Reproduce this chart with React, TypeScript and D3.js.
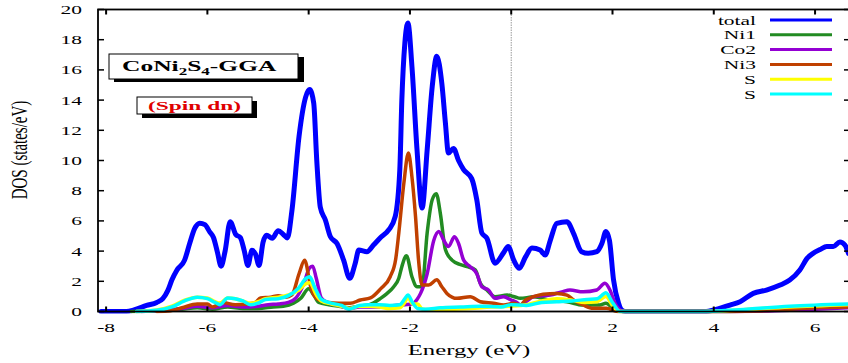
import React from "react";
import * as d3 from "d3";

type Pt = [number, number];

// Energy (eV) vs. DOS (states/eV), spin-down channel
const totalDos: Pt[] = [
  [-8.1, 0], [-7.6, 0], [-7.45, 0.1], [-7.2, 0.4], [-7.0, 0.6], [-6.88, 0.85], [-6.78, 1.4],
  [-6.7, 2.1], [-6.6, 2.75], [-6.45, 3.4], [-6.35, 4.5], [-6.25, 5.5], [-6.15, 5.85],
  [-6.05, 5.75], [-5.95, 5.25], [-5.88, 4.9], [-5.8, 3.9], [-5.73, 3.0], [-5.65, 4.0],
  [-5.55, 5.95], [-5.44, 5.1], [-5.35, 4.9], [-5.27, 4.0], [-5.2, 3.05], [-5.12, 4.05],
  [-5.05, 3.8], [-4.98, 3.05], [-4.9, 4.6], [-4.83, 5.05], [-4.72, 4.85], [-4.6, 5.35],
  [-4.5, 5.1], [-4.42, 4.87], [-4.33, 6.7], [-4.19, 11.6], [-4.06, 14.2], [-3.98, 14.7],
  [-3.9, 13.8], [-3.84, 10.0], [-3.77, 6.9], [-3.67, 6.06], [-3.57, 4.95], [-3.44, 4.5],
  [-3.31, 3.4], [-3.19, 2.2], [-3.08, 3.2], [-3.01, 4.07], [-2.85, 3.96], [-2.72, 4.4],
  [-2.58, 4.9], [-2.42, 5.4], [-2.29, 6.3], [-2.2, 9.4], [-2.16, 14.0], [-2.1, 17.8],
  [-2.04, 19.1], [-1.96, 16.2], [-1.86, 10.7], [-1.76, 6.85], [-1.66, 10.7], [-1.56, 14.9],
  [-1.47, 16.9], [-1.37, 15.1], [-1.3, 12.5], [-1.24, 10.5], [-1.14, 10.8], [-1.04, 10.0],
  [-0.94, 9.4], [-0.78, 8.8], [-0.68, 7.4], [-0.58, 5.2], [-0.48, 4.85], [-0.32, 3.2],
  [-0.15, 3.9], [-0.06, 4.3], [0.05, 3.4], [0.16, 2.86], [0.28, 3.6], [0.41, 4.2],
  [0.57, 4.07], [0.67, 3.74], [0.77, 4.7], [0.9, 5.84], [1.1, 5.95], [1.23, 5.18],
  [1.39, 3.96], [1.52, 3.85], [1.69, 3.96], [1.79, 4.5], [1.87, 5.3], [1.94, 4.7],
  [2.02, 2.1], [2.12, 0.55], [2.18, 0.1], [2.25, 0], [3.85, 0], [4.0, 0.1], [4.32, 0.43],
  [4.52, 0.65], [4.78, 1.2], [5.04, 1.42], [5.31, 1.75], [5.5, 2.08], [5.7, 2.75],
  [5.85, 3.55], [5.96, 3.85], [6.1, 4.1], [6.23, 4.3], [6.36, 4.3], [6.49, 4.6],
  [6.59, 4.4], [6.66, 3.85],
];

const ni1Dos: Pt[] = [
  [-7.5, 0], [-7.0, 0.05], [-6.5, 0.15], [-6.2, 0.25], [-5.9, 0.15], [-5.6, 0.3], [-5.3, 0.2],
  [-5.0, 0.2], [-4.7, 0.3], [-4.5, 0.35], [-4.3, 0.55], [-4.15, 0.9], [-4.0, 1.5],
  [-3.9, 1.1], [-3.8, 0.6], [-3.6, 0.45], [-3.4, 0.35], [-3.2, 0.25], [-3.0, 0.35],
  [-2.8, 0.45], [-2.58, 0.87], [-2.45, 1.2], [-2.32, 1.64], [-2.22, 2.2], [-2.16, 2.97],
  [-2.07, 3.7], [-1.96, 2.3], [-1.86, 1.64], [-1.76, 1.64], [-1.66, 5.2], [-1.56, 7.4],
  [-1.48, 7.8], [-1.4, 6.5], [-1.3, 4.1], [-1.17, 3.4], [-1.0, 3.1], [-0.87, 2.97],
  [-0.71, 2.75], [-0.61, 1.87], [-0.48, 1.42], [-0.32, 0.98], [-0.08, 1.09], [0.06, 0.98],
  [0.18, 0.87], [0.44, 0.97], [0.77, 0.76], [1.1, 0.65], [1.42, 0.43], [1.75, 0.43],
  [1.87, 0.54], [2.05, 0.1], [2.2, 0], [4.2, 0], [5.0, 0.1], [5.8, 0.25], [6.66, 0.35],
];

const co2Dos: Pt[] = [
  [-7.3, 0], [-6.8, 0.1], [-6.5, 0.2], [-6.2, 0.35], [-5.9, 0.25], [-5.6, 0.4], [-5.3, 0.3],
  [-5.0, 0.35], [-4.8, 0.45], [-4.6, 0.5], [-4.4, 0.6], [-4.25, 0.9], [-4.1, 1.8],
  [-3.98, 2.9], [-3.92, 3.0], [-3.85, 2.2], [-3.75, 0.9], [-3.6, 0.55], [-3.4, 0.4],
  [-3.2, 0.2], [-3.0, 0.3], [-2.8, 0.3], [-2.6, 0.3], [-2.3, 0.4], [-2.1, 0.45],
  [-1.95, 0.5], [-1.86, 0.8], [-1.79, 1.2], [-1.66, 2.5], [-1.53, 4.7], [-1.43, 5.3],
  [-1.33, 4.7], [-1.24, 4.3], [-1.12, 4.95], [-1.04, 4.5], [-0.94, 3.4], [-0.81, 2.97],
  [-0.68, 2.5], [-0.58, 1.64], [-0.45, 1.42], [-0.32, 0.87], [-0.15, 0.98], [0.0, 0.76],
  [0.11, 0.6], [0.18, 0.43], [0.44, 0.98], [0.77, 1.09], [1.0, 1.3], [1.16, 1.42],
  [1.42, 1.3], [1.69, 1.42], [1.85, 1.87], [1.95, 1.42], [2.05, 0.54], [2.15, 0.1],
  [2.25, 0], [4.3, 0], [5.2, 0.05], [6.0, 0.15], [6.66, 0.25],
];

const ni3Dos: Pt[] = [
  [-7.0, 0], [-6.73, 0.05], [-6.5, 0.25], [-6.2, 0.5], [-6.0, 0.5], [-5.9, 0.3], [-5.7, 0.6],
  [-5.45, 0.45], [-5.2, 0.5], [-5.05, 0.6], [-4.95, 0.9], [-4.75, 0.95], [-4.6, 1.05],
  [-4.45, 0.95], [-4.33, 1.1], [-4.19, 2.5], [-4.08, 3.4], [-3.96, 1.64], [-3.9, 1.09],
  [-3.8, 0.76], [-3.6, 0.6], [-3.4, 0.55], [-3.18, 0.54], [-2.98, 0.76], [-2.78, 0.9],
  [-2.58, 1.5], [-2.39, 2.3], [-2.28, 3.5], [-2.22, 5.2], [-2.12, 8.5], [-2.03, 10.5],
  [-1.96, 8.9], [-1.89, 6.3], [-1.83, 3.4], [-1.76, 1.75], [-1.63, 1.75], [-1.47, 2.1],
  [-1.37, 1.64], [-1.27, 1.2], [-1.07, 0.87], [-0.81, 0.98], [-0.61, 0.65], [-0.35, 0.54],
  [-0.15, 0.43], [0.05, 0.54], [0.18, 0.43], [0.28, 0.76], [0.44, 0.98], [0.63, 1.14],
  [0.9, 1.2], [1.1, 1.09], [1.23, 0.76], [1.42, 0.43], [1.62, 0.21], [1.88, 0.21],
  [2.1, 0], [4.3, 0], [5.2, 0.08], [6.0, 0.25], [6.66, 0.3],
];

const s1Dos: Pt[] = [
  [-7.4, 0], [-7.0, 0.1], [-6.7, 0.35], [-6.45, 0.75], [-6.2, 0.95], [-6.0, 0.9],
  [-5.85, 0.65], [-5.75, 0.55], [-5.6, 0.9], [-5.45, 0.85], [-5.3, 0.7], [-5.15, 0.55],
  [-5.0, 0.65], [-4.85, 0.85], [-4.6, 0.95], [-4.4, 1.1], [-4.2, 1.4], [-4.05, 1.85],
  [-3.98, 1.9], [-3.85, 1.1], [-3.75, 0.7], [-3.55, 0.5], [-3.35, 0.35], [-3.2, 0.2],
  [-3.0, 0.35], [-2.8, 0.35], [-2.6, 0.3], [-2.4, 0.2], [-2.2, 0.25], [-2.1, 0.6],
  [-2.04, 0.95], [-1.95, 0.5], [-1.85, 0.5], [-1.75, 0.15], [-1.5, 0.1], [-1.2, 0.15],
  [-0.8, 0.2], [-0.4, 0.3], [0.0, 0.35], [0.3, 0.45], [0.6, 0.7], [0.9, 0.85], [1.2, 0.75],
  [1.45, 0.6], [1.7, 0.65], [1.87, 1.0], [2.0, 0.4], [2.15, 0], [3.9, 0], [4.5, 0.1],
  [5.5, 0.3], [6.66, 0.45],
];

const s2Dos: Pt[] = [
  [-7.4, 0], [-7.0, 0.08], [-6.7, 0.3], [-6.45, 0.7], [-6.2, 0.95], [-6.0, 0.85],
  [-5.85, 0.6], [-5.75, 0.45], [-5.6, 0.9], [-5.45, 0.85], [-5.3, 0.7], [-5.15, 0.45],
  [-5.0, 0.55], [-4.85, 0.8], [-4.6, 0.85], [-4.4, 1.05], [-4.2, 1.55], [-4.05, 2.2],
  [-3.98, 2.3], [-3.88, 1.6], [-3.75, 0.8], [-3.55, 0.55], [-3.35, 0.4], [-3.2, 0.15],
  [-3.0, 0.4], [-2.8, 0.45], [-2.6, 0.45], [-2.4, 0.4], [-2.2, 0.45], [-2.1, 0.85],
  [-2.04, 1.1], [-1.95, 0.6], [-1.85, 0.2], [-1.7, 0.15], [-1.4, 0.25], [-1.0, 0.3],
  [-0.6, 0.35], [-0.2, 0.3], [0.0, 0.45], [0.3, 0.4], [0.6, 0.6], [0.9, 0.65], [1.2, 0.7],
  [1.5, 0.8], [1.7, 0.85], [1.87, 1.25], [2.0, 0.6], [2.15, 0], [3.8, 0], [4.5, 0.12],
  [5.5, 0.35], [6.66, 0.5],
];

const seriesNames = ["total", "Ni1", "Co2", "Ni3", "S", "S"];
const seriesColors = ["#0000ff", "#228b22", "#9400d3", "#c04000", "#ffff00", "#00ffff"];
const seriesData = [totalDos, ni1Dos, co2Dos, ni3Dos, s1Dos, s2Dos];

const xTicks = [-8, -6, -4, -2, 0, 2, 4, 6];
const yTicks = [0, 2, 4, 6, 8, 10, 12, 14, 16, 18, 20];

const W = 848;
const H = 363;
const FONT = "'Liberation Serif', 'Times New Roman', serif";
const SX = 1.65; // horizontal glyph stretch

export default function App() {
  const left = 98;
  const right = 850;
  const top = 9.5;
  const bottom = 311.5;

  const x = d3.scaleLinear().domain([-8.16, 6.69]).range([left, right]);
  const y = d3.scaleLinear().domain([0, 20]).range([bottom, top]);

  const line = d3
    .line<Pt>()
    .x((d) => x(d[0]))
    .y((d) => y(d[1]))
    .curve(d3.curveMonotoneX);

  const stretchText = (
    tx: number,
    ty: number,
    content: React.ReactNode,
    opts: { anchor?: string; size?: number; weight?: string; fill?: string; sx?: number } = {}
  ) => (
    <text
      transform={`translate(${tx},${ty}) scale(${opts.sx ?? SX},1)`}
      textAnchor={opts.anchor ?? "start"}
      fontSize={opts.size ?? 13}
      fontWeight={opts.weight ?? "normal"}
      fill={opts.fill ?? "#000"}
      fontFamily={FONT}
    >
      {content}
    </text>
  );

  const legendX1 = 770;
  const legendX2 = 832;
  const legendTextX = 756;
  const legendY0 = 20;
  const legendDy = 14.8;

  return (
    <svg
      width={W}
      height={H}
      style={{ position: "absolute", left: 0, top: 0, background: "#fff" }}
    >
      <defs>
        <clipPath id="plot-area">
          <rect x={left} y={top - 2} width={right - left} height={bottom - top + 4} />
        </clipPath>
      </defs>
      <rect x={0} y={0} width={W} height={H} fill="#fff" />

      {/* Fermi level */}
      <line
        x1={x(0)}
        x2={x(0)}
        y1={top}
        y2={bottom}
        stroke="#999"
        strokeWidth={1}
        strokeDasharray="1.5,1"
      />

      {/* DOS curves */}
      <g clipPath="url(#plot-area)">
        {seriesData.map((d, i) => (
          <path
            key={i}
            d={line(d) ?? ""}
            fill="none"
            stroke={seriesColors[i]}
            strokeWidth={i === 0 ? 5 : 3.5}
            strokeLinejoin="round"
            strokeLinecap="round"
          />
        ))}
      </g>

      {/* frame */}
      <rect
        x={left}
        y={top}
        width={right - left}
        height={bottom - top}
        fill="none"
        stroke="#000"
        strokeWidth={1.8}
      />

      {/* ticks */}
      {xTicks.map((t) => (
        <g key={`xt${t}`}>
          <line x1={x(t)} x2={x(t)} y1={bottom} y2={bottom - 5} stroke="#000" strokeWidth={2} />
          <line x1={x(t)} x2={x(t)} y1={top} y2={top + 5} stroke="#000" strokeWidth={2} />
          {stretchText(x(t), 332, String(t).replace("-", "-"), { anchor: "middle", size: 13 })}
        </g>
      ))}
      {yTicks.map((t) => (
        <g key={`yt${t}`}>
          <line x1={left} x2={left + 6} y1={y(t)} y2={y(t)} stroke="#000" strokeWidth={1.5} />
          <line x1={right} x2={right - 6} y1={y(t)} y2={y(t)} stroke="#000" strokeWidth={1.5} />
          {stretchText(82, y(t) + 4.5, String(t), { anchor: "end", size: 13 })}
        </g>
      ))}

      {/* axis titles */}
      {stretchText((left + right) / 2 - 5, 355, "Energy (eV)", { anchor: "middle", size: 15 })}
      <text
        transform={`translate(27,150) scale(1.5,1) rotate(-90)`}
        textAnchor="middle"
        fontSize={15}
        fontFamily={FONT}
      >
        DOS (states/eV)
      </text>

      {/* title boxes */}
      <rect x={114} y={57} width={190} height={25} fill="#000" />
      <rect x={109} y={54} width={189} height={25} fill="#fff" stroke="#000" strokeWidth={1} />
      {stretchText(
        122,
        71,
        <>
          <tspan>CoNi</tspan>
          <tspan fontSize={10} dy={4}>2</tspan>
          <tspan dy={-4}>S</tspan>
          <tspan fontSize={10} dy={4}>4</tspan>
          <tspan dy={-4}>-GGA</tspan>
        </>,
        { size: 15, weight: "bold", sx: 1.7 }
      )}

      <rect x={142} y={101} width={115} height={17} fill="#000" />
      <rect x={137} y={97} width={115} height={17} fill="#fff" stroke="#000" strokeWidth={1} />
      {stretchText(194.5, 110, "(Spin dn)", {
        anchor: "middle",
        size: 13,
        weight: "bold",
        fill: "#e00000",
        sx: 1.8,
      })}

      {/* legend */}
      {seriesNames.map((name, i) => {
        const ly = legendY0 + i * legendDy;
        return (
          <g key={`lg${i}`}>
            {stretchText(legendTextX, ly + 4.5, name, { anchor: "end", size: 13 })}
            <line
              x1={legendX1}
              x2={legendX2}
              y1={ly}
              y2={ly}
              stroke={seriesColors[i]}
              strokeWidth={3}
            />
          </g>
        );
      })}
    </svg>
  );
}
